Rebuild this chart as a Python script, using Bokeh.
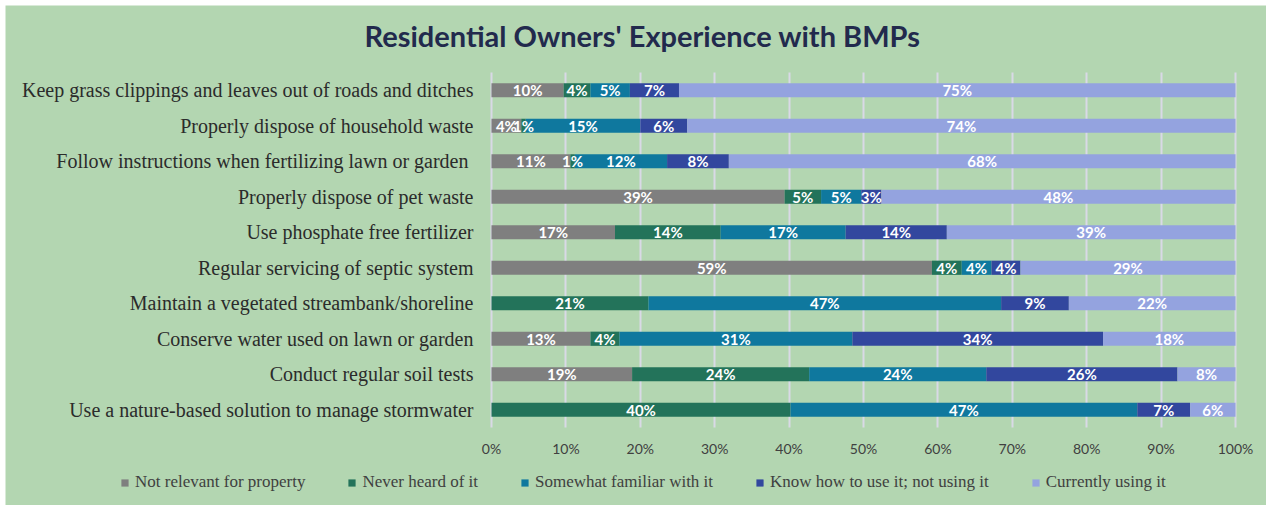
from bokeh.plotting import figure
from bokeh.models import (ColumnDataSource, Range1d, FixedTicker, PrintfTickFormatter,
                          Legend, LegendItem, Label, Grid)
from bokeh.core.properties import value
from bokeh.embed import file_html
from bokeh.resources import INLINE

categories = [
    "Keep grass clippings and leaves out of roads and ditches",
    "Properly dispose of household waste",
    "Follow  instructions when fertilizing lawn or garden",
    "Properly dispose of pet waste",
    "Use phosphate free fertilizer",
    "Regular servicing of septic system",
    "Maintain a vegetated streambank/shoreline",
    "Conserve water used on lawn or garden",
    "Conduct regular soil tests",
    "Use a nature-based solution to manage stormwater",
]
series_names = ["Not relevant for property", "Never heard of it", "Somewhat familiar with it",
                "Know how to use it; not using it", "Currently using it"]
not_relevant = [9.7, 4.0, 10.6, 39.4, 16.6, 59.2, 0.0, 13.3, 18.9, 0.0]
never_heard = [3.6, 0.6, 0.6, 4.9, 14.2, 4.0, 21.1, 3.9, 23.8, 40.2]
somewhat = [5.3, 15.4, 12.4, 5.4, 16.8, 4.0, 47.4, 31.3, 23.8, 46.6]
know_how = [6.6, 6.3, 8.3, 2.7, 13.6, 3.9, 9.1, 33.7, 25.7, 7.1]
currently = [74.8, 73.7, 68.1, 47.6, 38.8, 28.9, 22.4, 17.8, 7.8, 6.1]
x_ticks = [0, 10, 20, 30, 40, 50, 60, 70, 80, 90, 100]
title_text = "Residential Owners' Experience with BMPs"

colors = ["#7f7f7f", "#23735a", "#0f789e", "#32479e", "#94a3df"]
BG = "#b3d6b1"

n = len(categories)
ypos = [n - i for i in range(n)]          # first category at the top
keys = ["s0", "s1", "s2", "s3", "s4"]
series = [not_relevant, never_heard, somewhat, know_how, currently]
data = {"y": ypos}
for k, s in zip(keys, series):
    data[k] = s
source = ColumnDataSource(data)

# label positions from the data
lx, ly, lt = [], [], []
for i in range(n):
    cum = 0.0
    for s in series:
        v = s[i]
        if v > 0:
            lx.append(cum + v / 2)
            ly.append(ypos[i])
            lt.append(f"{v:.0f}%")
        cum += v
lab_src = ColumnDataSource(dict(x=lx, y=ly, t=lt))

# layout: frame = whole canvas; 7.44 px per percent, 35.5 px per row
W, H = 1261, 500
px_per_x = 7.44
px_per_row = 35.5
left_px, top_px, bottom_px = 486, 67, 78
x0 = -left_px / px_per_x
x1 = x0 + W / px_per_x
y_lo = 0.5 - bottom_px / px_per_row
y_hi = n + 0.5 + top_px / px_per_row

p = figure(width=W, height=H, output_backend="svg", toolbar_location=None,
           x_range=Range1d(x0, x1), y_range=Range1d(y_lo, y_hi),
           min_border=0, margin=(5, 0, 0, 5))
p.background_fill_color = BG
p.border_fill_color = BG
p.outline_line_color = None

# grid lines only across the bar area
p.xgrid.grid_line_color = None
p.ygrid.grid_line_color = None
if "cross_bounds" in Grid.properties():
    g = Grid(dimension=0, ticker=FixedTicker(ticks=x_ticks), grid_line_color="#d9d9e6",
             grid_line_width=2, cross_bounds=(0.5, n + 0.5))
    p.add_layout(g)
else:
    p.segment(x0=x_ticks, y0=[0.5] * len(x_ticks), x1=x_ticks, y1=[n + 0.5] * len(x_ticks),
              line_color="#d9d9e6", line_width=2)

renderers = p.hbar_stack(keys, y="y", height=0.4, color=colors, line_color=None, source=source)

p.text(x="x", y="y", text="t", source=lab_src, text_align="center", text_baseline="middle",
       text_color="white", text_font=value("Lato"), text_font_style="bold", text_font_size="15px")

xa = p.xaxis[0]
xa.fixed_location = 0.5
xa.ticker = FixedTicker(ticks=x_ticks)
xa.formatter = PrintfTickFormatter(format="%d%%")
xa.axis_line_color = None
xa.major_tick_line_color = None
xa.major_tick_out = 0
xa.major_tick_in = 0
xa.minor_tick_line_color = None
xa.major_label_text_font = "Lato"
xa.major_label_text_font_size = "14px"
xa.major_label_text_color = "#404040"
xa.major_label_standoff = 12

ya = p.yaxis[0]
ya.fixed_location = 0
ya.ticker = FixedTicker(ticks=ypos)
ya.major_label_overrides = {y: c for y, c in zip(ypos, categories)}
ya.axis_line_color = None
ya.major_tick_line_color = None
ya.major_tick_out = 0
ya.major_tick_in = 0
ya.minor_tick_line_color = None
ya.major_label_text_font = "Liberation Serif"
ya.major_label_text_font_size = "20px"
ya.major_label_text_color = "#2b2b2b"
ya.major_label_standoff = 18

title = Label(x=637, y=H - 30, x_units="screen", y_units="screen", text=title_text,
              text_align="center", text_baseline="middle", text_font="Lato",
              text_font_style="bold", text_font_size="29px", text_color="#222a4d")
p.add_layout(title)

legend = Legend(items=[LegendItem(label=nm, renderers=[r]) for nm, r in zip(series_names, renderers)],
                orientation="horizontal", location=(115, 13), padding=0, spacing=42,
                glyph_width=9, glyph_height=9, label_standoff=6,
                label_text_font="Liberation Serif", label_text_font_size="17px",
                label_text_color="#404040", background_fill_alpha=0, border_line_color=None)
p.add_layout(legend, "center")

open("out.html", "w").write(file_html(p, INLINE))
